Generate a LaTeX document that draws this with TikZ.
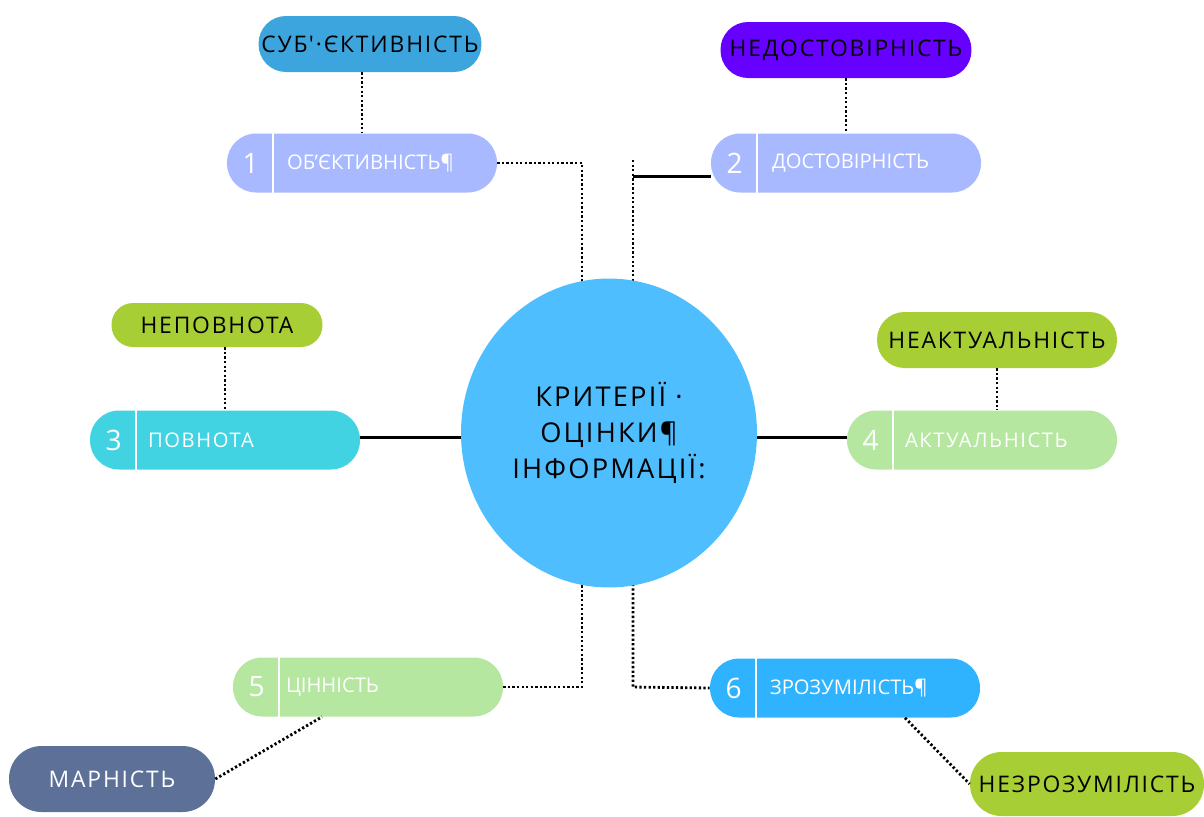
\documentclass[tikz,border=0pt]{standalone}
\usepackage{fontspec}
\setmainfont{Open Sans}
\newfontfamily\spacedfont[LetterSpace=8]{Open Sans}
\usepackage{xcolor}
\usetikzlibrary{shapes,positioning,calc,backgrounds}

\definecolor{corefill}{HTML}{4FBEFF}
\definecolor{objblue}{HTML}{A9B9FF}
\definecolor{subblue}{HTML}{3DA5DE}
\definecolor{violet}{HTML}{6600FF}
\definecolor{cyanbox}{HTML}{41D3E1}
\definecolor{lime}{HTML}{A7CF35}
\definecolor{mint}{HTML}{B5E7A0}
\definecolor{slate}{HTML}{5D7098}
\definecolor{azure}{HTML}{2FB3FF}

\begin{document}
\begin{tikzpicture}[x=0.02cm, y=-0.02cm,
    core/.style={ellipse, fill=corefill, minimum width=5.92cm, minimum height=6.18cm, inner sep=0pt, align=center, font=\spacedfont\fontsize{15.5}{20.5}\selectfont},
    crit/.style={rectangle, rounded corners=0.58cm, minimum width=5.4cm, minimum height=1.18cm, inner sep=0pt},
    tag/.style={rectangle, rounded corners=0.55cm, minimum height=1.12cm, inner sep=0pt, font=\spacedfont\fontsize{13}{15}\selectfont},
    num/.style={font=\fontsize{16}{18}\selectfont, text=white, inner sep=0pt},
    lbl/.style={anchor=west, font=\fontsize{11.5}{14}\selectfont, text=white, inner sep=0pt},
    dotline/.style={line width=1.6pt, dash pattern=on 1.3pt off 1.3pt},
    solidline/.style={line width=1.7pt}
]
\useasboundingbox (0,0) rectangle (1204,816);

% --- CENTRE ---
\node[core] (core) at (609,433) {КРИТЕРІЇ ·\\ОЦІНКИ¶\\ІНФОРМАЦІЇ:};

% --- CRITERIA: number | label ---
\foreach \i/\x/\y/\c/\o/\t in {
    1/362/163/objblue/1.2/{ОБ'ЄКТИВНІСТЬ¶},
    2/846/163/objblue/1.22/{ДОСТОВІРНІСТЬ},
    3/225/440/cyanbox/1.16/{\spacedfont ПОВНОТА},
    4/982/440/mint/1.16/{\spacedfont АКТУАЛЬНІСТЬ},
    5/368/687/mint/1.06/{ЦІННІСТЬ},
    6/845/688/azure/1.2/{ЗРОЗУМІЛІСТЬ¶}} {
    \node[crit, fill=\c] (b\i) at (\x,\y) {};
    \draw[white, line width=1.2pt] ([xshift=0.93cm]b\i.north west) -- ([xshift=0.93cm]b\i.south west);
    \node[num] (n\i) at ([xshift=0.48cm]b\i.west) {\i};
    \node[lbl] (l\i) at ([xshift=\o cm]b\i.west) {\t};
}

% --- OPPOSITES ---
\node[tag, fill=subblue, minimum width=4.46cm] (t1) at (370,44) {СУБ'·ЄКТИВНІСТЬ};
\node[tag, fill=violet, minimum width=5.02cm] (t2) at (846,50) {НЕДОСТОВІРНІСТЬ};
\node[tag, fill=lime, minimum width=4.22cm, minimum height=0.88cm, rounded corners=0.43cm] (t3) at (217,325) {НЕПОВНОТА};
\node[tag, fill=lime, minimum width=4.8cm] (t4) at (997,340) {НЕАКТУАЛЬНІСТЬ};
\node[tag, fill=slate, text=white, minimum width=4.12cm, minimum height=1.32cm, rounded corners=0.65cm] (t5) at (112,779) {МАРНІСТЬ};
\node[tag, fill=lime, minimum width=4.68cm, minimum height=1.28cm, rounded corners=0.63cm] (t6) at (1087,784) {НЕЗРОЗУМІЛІСТЬ};

% --- CONNECTORS ---
\coordinate (j1) at (582,163);
\coordinate (j2) at (633,176);
\coordinate (j2t) at (633,160);
\coordinate (j5) at (582,687);
\coordinate (j6) at (633,687);
\begin{pgfonlayer}{background}
    \draw[dotline] (b1.east) -- (j1) -- (j1 |- core.center);
    \draw[solidline] (b2.west |- j2) -- (j2);
    \draw[dotline] (j2t) -- (j2t |- core.center);
    \draw[solidline] ([yshift=0.06cm]b3.east) -- ([yshift=0.06cm]b3.east -| core.center);
    \draw[solidline] ([yshift=0.06cm]b4.west -| core.center) -- ([yshift=0.06cm]b4.west);
    \draw[dotline] (b5.east) -- (j5) -- (j5 |- core.center);
    \draw[dotline] (j6 |- core.center) -- (j6) -- (b6.west);
\end{pgfonlayer}

% Opposites to criteria
\draw[dotline] (t1.south -| b1.north) -- (b1.north);
\draw[dotline] (t2.south) -- (t2.south |- b2.north);
\draw[dotline] (t3.south -| b3.north) -- (b3.north);
\draw[dotline] (t4.south) -- (t4.south |- b4.north);
\draw[dotline] (t5.east) -- ([xshift=-0.92cm]b5.south);
\draw[dotline] ([xshift=1.2cm]b6.south) -- (t6.west);

\end{tikzpicture}
\end{document}
